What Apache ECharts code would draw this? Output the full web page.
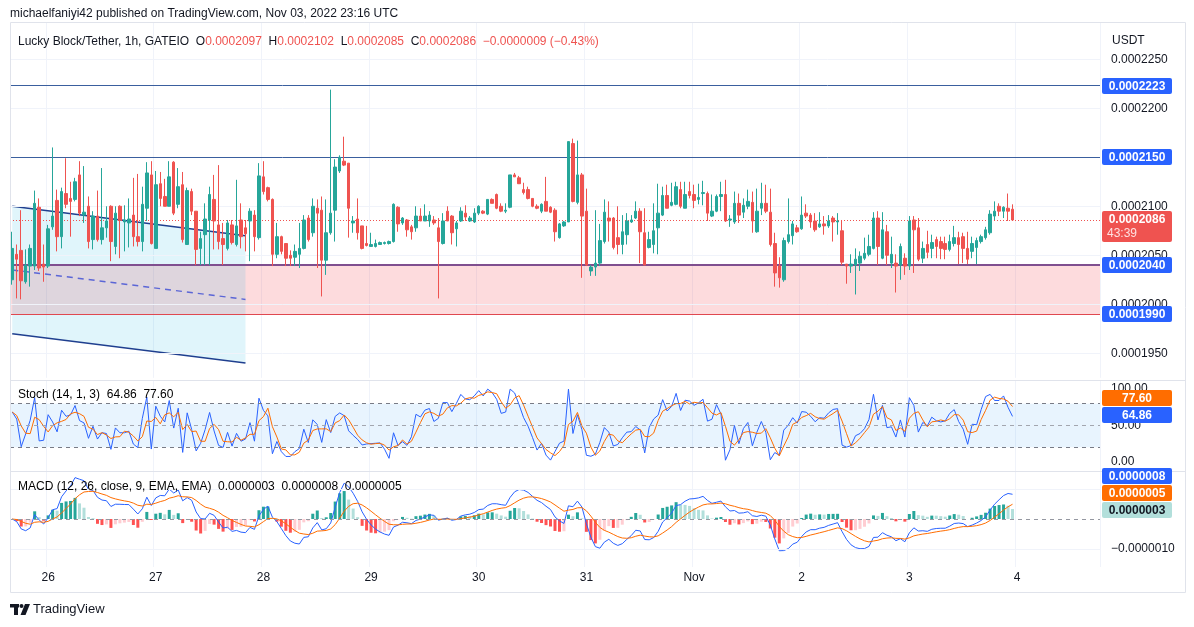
<!DOCTYPE html>
<html>
<head>
<meta charset="utf-8">
<title>Lucky Block/Tether, 1h, GATEIO</title>
<script src="https://cdn.jsdelivr.net/npm/echarts@6/dist/echarts.min.js"></script>
<style>
  html, body { margin: 0; padding: 0; background: #fff; }
  #chart { width: 1194px; height: 627px; }
</style>
</head>
<body>
<div id="chart"></div>
<script>
// prices are in units of 0.0000001 USDT, one candle per hour from Oct 25 16:00 UTC
const opens = [
  2025, 2051, 2055, 2023, 2039, 2039, 2099, 2041, 2039, 2079, 2106, 2069, 2113, 2108, 2107, 2132,
  2091, 2100, 2066, 2090, 2066, 2078, 2100, 2059, 2100, 2084, 2083, 2091, 2069, 2064, 2098, 2132,
  2057, 2123, 2110, 2100, 2145, 2102, 2122, 2061, 2115, 2095, 2057, 2071, 2086, 2107, 2081, 2067,
  2057, 2081, 2061, 2086, 2078, 2085, 2091, 2068, 2130, 2119, 2107, 2051, 2069, 2062, 2050, 2048,
  2051, 2057, 2088, 2073, 2098, 2096, 2045, 2073, 2096, 2136, 2146, 2144, 2083, 2087, 2080, 2062,
  2059, 2059, 2061, 2062, 2062, 2064, 2099, 2083, 2086, 2079, 2078, 2090, 2085, 2085, 2086, 2078,
  2062, 2095, 2090, 2077, 2085, 2093, 2085, 2084, 2093, 2095, 2092, 2107, 2112, 2100, 2095, 2099,
  2132, 2129, 2117, 2117, 2108, 2100, 2095, 2105, 2099, 2096, 2068, 2080, 2084, 2164, 2104, 2132,
  2095, 2034, 2038, 2042, 2064, 2088, 2088, 2068, 2061, 2071, 2084, 2088, 2095, 2073, 2058, 2061,
  2078, 2091, 2111, 2101, 2102, 2117, 2098, 2115, 2112, 2107, 2113, 2113, 2090, 2095, 2110, 2112,
  2086, 2084, 2103, 2094, 2100, 2104, 2074, 2098, 2103, 2094, 2062, 2039, 2025, 2064, 2070, 2078,
  2077, 2093, 2091, 2085, 2079, 2082, 2080, 2088, 2084, 2075, 2041, 2039, 2040, 2042, 2047, 2051,
  2057, 2088, 2047, 2074, 2042, 2042, 2040, 2047, 2039, 2086, 2078, 2047, 2061, 2057, 2066, 2064,
  2062, 2056, 2062, 2068, 2069, 2057, 2054, 2058, 2064, 2068, 2073, 2090, 2100, 2095, 2098, 2097
];
const highs = [
  2074, 2061, 2096, 2056, 2061, 2116, 2108, 2061, 2081, 2160, 2117, 2119, 2149, 2125, 2129, 2146,
  2141, 2110, 2095, 2116, 2139, 2100, 2101, 2100, 2101, 2101, 2108, 2129, 2133, 2120, 2145, 2146,
  2136, 2135, 2128, 2146, 2146, 2139, 2135, 2119, 2118, 2095, 2074, 2103, 2120, 2132, 2142, 2083,
  2086, 2086, 2127, 2103, 2086, 2098, 2096, 2144, 2146, 2120, 2108, 2083, 2070, 2062, 2055, 2061,
  2083, 2091, 2091, 2108, 2107, 2110, 2107, 2219, 2148, 2152, 2171, 2144, 2090, 2108, 2080, 2080,
  2073, 2066, 2064, 2064, 2065, 2103, 2100, 2089, 2087, 2081, 2100, 2098, 2102, 2095, 2090, 2088,
  2093, 2100, 2091, 2085, 2099, 2101, 2090, 2098, 2101, 2096, 2107, 2108, 2113, 2103, 2103, 2132,
  2134, 2131, 2124, 2120, 2108, 2102, 2103, 2130, 2100, 2098, 2083, 2085, 2166, 2169, 2167, 2134,
  2118, 2040, 2096, 2082, 2107, 2105, 2089, 2100, 2091, 2093, 2091, 2105, 2098, 2098, 2074, 2103,
  2123, 2120, 2122, 2124, 2125, 2125, 2125, 2125, 2122, 2123, 2126, 2115, 2112, 2112, 2125, 2127,
  2091, 2115, 2113, 2108, 2117, 2115, 2118, 2124, 2122, 2118, 2073, 2048, 2068, 2108, 2085, 2081,
  2110, 2102, 2093, 2093, 2094, 2090, 2091, 2090, 2093, 2086, 2041, 2051, 2057, 2054, 2068, 2071,
  2094, 2095, 2094, 2081, 2069, 2051, 2062, 2052, 2090, 2090, 2088, 2064, 2075, 2071, 2069, 2069,
  2069, 2071, 2080, 2074, 2073, 2074, 2069, 2068, 2071, 2079, 2096, 2105, 2103, 2100, 2113, 2102
];
const lows = [
  2020, 2006, 2005, 2021, 2018, 2035, 2034, 2023, 2037, 2076, 2054, 2057, 2098, 2069, 2105, 2090,
  2083, 2057, 2056, 2064, 2061, 2068, 2044, 2051, 2047, 2054, 2058, 2059, 2059, 2054, 2085, 2061,
  2057, 2100, 2100, 2100, 2091, 2098, 2063, 2061, 2091, 2040, 2040, 2040, 2040, 2056, 2056, 2040,
  2055, 2061, 2059, 2057, 2054, 2044, 2054, 2066, 2112, 2105, 2039, 2047, 2051, 2039, 2039, 2039,
  2037, 2056, 2064, 2069, 2037, 2008, 2030, 2071, 2064, 2134, 2141, 2068, 2073, 2066, 2056, 2059,
  2059, 2058, 2061, 2061, 2061, 2063, 2074, 2081, 2069, 2066, 2074, 2085, 2085, 2079, 2081, 2006,
  2061, 2085, 2061, 2059, 2084, 2085, 2084, 2083, 2091, 2092, 2091, 2103, 2097, 2094, 2093, 2098,
  2130, 2123, 2112, 2107, 2099, 2097, 2093, 2095, 2093, 2064, 2067, 2079, 2084, 2104, 2102, 2027,
  2039, 2029, 2029, 2039, 2062, 2064, 2056, 2051, 2051, 2061, 2083, 2087, 2042, 2040, 2057, 2052,
  2051, 2090, 2098, 2100, 2101, 2098, 2098, 2108, 2098, 2102, 2101, 2085, 2089, 2094, 2095, 2084,
  2079, 2082, 2083, 2088, 2097, 2073, 2073, 2091, 2093, 2059, 2018, 2017, 2023, 2062, 2061, 2073,
  2076, 2088, 2078, 2074, 2078, 2071, 2078, 2064, 2071, 2040, 2021, 2032, 2010, 2034, 2045, 2049,
  2056, 2040, 2046, 2040, 2037, 2012, 2025, 2030, 2035, 2032, 2044, 2042, 2047, 2047, 2047, 2046,
  2046, 2054, 2059, 2041, 2042, 2041, 2047, 2041, 2062, 2066, 2071, 2086, 2090, 2088, 2085, 2085
];
const closes = [
  2057, 2046, 2024, 2040, 2057, 2103, 2037, 2038, 2077, 2090, 2069, 2115, 2102, 2105, 2125, 2093,
  2094, 2064, 2090, 2066, 2078, 2085, 2064, 2093, 2086, 2086, 2087, 2069, 2064, 2102, 2134, 2062,
  2122, 2108, 2100, 2130, 2093, 2120, 2066, 2116, 2095, 2056, 2067, 2087, 2112, 2085, 2064, 2061,
  2083, 2063, 2080, 2069, 2072, 2095, 2069, 2131, 2115, 2107, 2051, 2069, 2054, 2047, 2047, 2054,
  2057, 2086, 2066, 2100, 2093, 2045, 2073, 2093, 2140, 2150, 2142, 2098, 2085, 2073, 2057, 2060,
  2061, 2062, 2063, 2063, 2064, 2102, 2082, 2088, 2076, 2074, 2090, 2085, 2090, 2091, 2083, 2064,
  2085, 2085, 2073, 2083, 2095, 2089, 2088, 2093, 2100, 2093, 2107, 2103, 2098, 2095, 2096, 2132,
  2130, 2123, 2114, 2108, 2100, 2098, 2102, 2095, 2094, 2074, 2082, 2084, 2166, 2105, 2132, 2090,
  2040, 2038, 2042, 2065, 2094, 2085, 2058, 2061, 2074, 2085, 2086, 2095, 2074, 2040, 2066, 2075,
  2093, 2111, 2098, 2104, 2120, 2100, 2112, 2111, 2106, 2109, 2114, 2093, 2095, 2110, 2112, 2085,
  2087, 2103, 2091, 2101, 2105, 2085, 2095, 2103, 2095, 2061, 2032, 2027, 2065, 2071, 2082, 2074,
  2091, 2090, 2084, 2076, 2082, 2080, 2085, 2084, 2085, 2043, 2039, 2041, 2046, 2049, 2052, 2059,
  2088, 2059, 2076, 2050, 2051, 2039, 2059, 2039, 2085, 2076, 2046, 2057, 2053, 2063, 2059, 2057,
  2056, 2064, 2068, 2061, 2057, 2046, 2062, 2065, 2069, 2076, 2092, 2095, 2095, 2099, 2095, 2086
];

// drawings on the price pane: [candle index, price]
const levelLines = [2223, 2150];
const supportZone = [1990, 2040];
const channelTop = [[0, 2100], [52, 2070]];
const channelBottom = [[0, 1970], [52, 1940]];
const priceTicks = [1950, 2000, 2050, 2100, 2200, 2250];
const priceGrid = [1950, 2000, 2050, 2100, 2150, 2200, 2250];
const countdown = '43:39';

// indicator read-outs shown in the legends
const stochParams = [14, 1, 3];
const stochLast = [64.86, 77.60];       // %K, %D
const macdLast = [3, 8, 5];             // histogram, macd, signal (0.0000001)
const stochLevels = [80, 50, 20];

const startTime = Date.UTC(2022, 9, 25, 16);
const slots = 243;
const months = ['Jan', 'Feb', 'Mar', 'Apr', 'May', 'Jun', 'Jul', 'Aug', 'Sep', 'Oct', 'Nov', 'Dec'];

const FONT = 'Liberation Sans, Arial, sans-serif';
const UP = '#26a69a', DOWN = '#ef5350', BLUE = '#2962ff', ORANGE = '#ff6d00', TEXT = '#131722';

const times = [];
for (let i = 0; i < slots; i++) times.push(startTime + i * 3600000);
const isDayStart = idx => new Date(times[idx]).getUTCHours() === 0;
function dayLabel(idx) {
  const d = new Date(times[idx]);
  return d.getUTCDate() === 1 ? months[d.getUTCMonth()] : String(d.getUTCDate());
}
const fmtPrice = v => (v < 0 ? '\u2212' : '') + (Math.abs(v) / 1e7).toFixed(7);

// indicators
function ema(src, n) {
  const k = 2 / (n + 1);
  let prev = src[0];
  return src.map((v, i) => (prev = i === 0 ? v : v * k + prev * (1 - k)));
}
const stochK = closes.map((c, i) => {
  const from = Math.max(0, i - stochParams[0] + 1);
  const hh = Math.max(...highs.slice(from, i + 1));
  const ll = Math.min(...lows.slice(from, i + 1));
  return hh === ll ? 50 : (100 * (c - ll)) / (hh - ll);
});
const stochD = stochK.map((v, i) => {
  const w = stochK.slice(Math.max(0, i - stochParams[2] + 1), i + 1);
  return w.reduce((a, b) => a + b, 0) / w.length;
});
const ema12 = ema(closes, 12), ema26 = ema(closes, 26);
const macd = closes.map((c, i) => ema12[i] - ema26[i]);
const signal = ema(macd, 9);
const hist = macd.map((m, i) => m - signal[i]);
const histData = hist.map((h, i) => {
  const prev = i > 0 ? hist[i - 1] : h;
  const color = h >= 0 ? (prev < h ? '#26a69a' : '#b2dfdb') : (prev < h ? '#ffcdd2' : '#ff5252');
  return { value: h, itemStyle: { color: color } };
});

const candles = opens.map((o, i) => [o, closes[i], lows[i], highs[i]]);
const last = candles.length - 1;
const change = closes[last] - closes[last - 1];
const changePct = (100 * change) / closes[last - 1];

const chart = echarts.init(document.getElementById('chart'));

function xAxisFor(grid, withLabels) {
  return {
    type: 'category', gridIndex: grid, data: times.map(String), boundaryGap: true,
    axisLine: { show: false }, axisTick: { show: false },
    axisLabel: {
      show: withLabels, interval: idx => isDayStart(idx), formatter: (v, idx) => dayLabel(idx),
      color: TEXT, fontSize: 12, fontFamily: FONT, margin: 5
    },
    splitLine: { show: true, interval: idx => isDayStart(idx), lineStyle: { color: '#f0f3fa', width: 1 } }
  };
}

const grids = [
  { left: 10, right: 94, top: 22.5, height: 355.3 },
  { left: 10, right: 94, top: 380, height: 91 },
  { left: 10, right: 94, top: 471, height: 96 }
];

chart.setOption({
  animation: false,
  backgroundColor: '#ffffff',
  grid: grids,
  xAxis: [xAxisFor(0, false), xAxisFor(1, false), xAxisFor(2, true)],
  yAxis: [
    {
      type: 'value', gridIndex: 0, position: 'right', min: 1925, max: 2287.5, interval: 25,
      axisLine: { show: false }, axisTick: { show: false }, splitLine: { show: false },
      axisLabel: { color: TEXT, fontSize: 12, fontFamily: FONT, margin: 11, showMaxLabel: false,
        formatter: v => (priceTicks.indexOf(v) >= 0 ? fmtPrice(v) : '') }
    },
    {
      type: 'value', gridIndex: 1, position: 'right', min: -12.5, max: 112.5, interval: 12.5,
      axisLine: { show: false }, axisTick: { show: false }, splitLine: { show: false },
      axisLabel: { color: TEXT, fontSize: 12, fontFamily: FONT, margin: 11,
        formatter: v => (v % 50 === 0 ? v.toFixed(2) : '') }
    },
    {
      type: 'value', gridIndex: 2, position: 'right', min: -16, max: 16, interval: 2,
      axisLine: { show: false }, axisTick: { show: false }, splitLine: { show: false },
      axisLabel: { color: TEXT, fontSize: 12, fontFamily: FONT, margin: 11,
        formatter: v => (v === -10 ? fmtPrice(v) : '') }
    }
  ],
  series: [
    {
      name: 'grid', type: 'line', xAxisIndex: 0, yAxisIndex: 0, data: [], z: 1, silent: true,
      markLine: {
        symbol: ['none', 'none'], silent: true, label: { show: false },
        lineStyle: { color: '#f0f3fa', type: 'solid', width: 1 },
        data: priceGrid.map(v => ({ yAxis: v }))
      }
    },
    {
      name: 'zone', type: 'line', xAxisIndex: 0, yAxisIndex: 0, data: [], z: 2, silent: true,
      markArea: {
        silent: true, itemStyle: { color: 'rgba(242, 54, 69, 0.18)' },
        data: [[{ yAxis: supportZone[0] }, { yAxis: supportZone[1] }]]
      }
    },
    {
      name: 'channel', type: 'custom', xAxisIndex: 0, yAxisIndex: 0, z: 3, silent: true,
      data: [[channelTop[0][0], channelTop[0][1]]],
      renderItem: function (params, api) {
        const t0 = api.coord(channelTop[0]), t1 = api.coord(channelTop[1]);
        const b0 = api.coord(channelBottom[0]), b1 = api.coord(channelBottom[1]);
        const m0 = api.coord([channelTop[0][0], (channelTop[0][1] + channelBottom[0][1]) / 2]);
        const m1 = api.coord([channelTop[1][0], (channelTop[1][1] + channelBottom[1][1]) / 2]);
        return {
          type: 'group',
          children: [
            { type: 'polygon', shape: { points: [t0, t1, b1, b0] }, style: { fill: 'rgba(0, 172, 220, 0.12)' } },
            { type: 'line', shape: { x1: t0[0], y1: t0[1], x2: t1[0], y2: t1[1] }, style: { stroke: '#1f3f8f', lineWidth: 1.5 } },
            { type: 'line', shape: { x1: b0[0], y1: b0[1], x2: b1[0], y2: b1[1] }, style: { stroke: '#1f3f8f', lineWidth: 1.5 } },
            { type: 'line', shape: { x1: m0[0], y1: m0[1], x2: m1[0], y2: m1[1] }, style: { stroke: '#5b66d6', lineWidth: 1.5, lineDash: [6, 5] } }
          ]
        };
      }
    },
    {
      name: 'Lucky Block/Tether', type: 'candlestick', xAxisIndex: 0, yAxisIndex: 0, z: 5,
      data: candles, barWidth: 3,
      itemStyle: { color: UP, color0: DOWN, borderColor: UP, borderColor0: DOWN, borderWidth: 1 }
    },
    {
      name: 'levels', type: 'line', xAxisIndex: 0, yAxisIndex: 0, data: [], z: 6, silent: true,
      markLine: {
        symbol: ['none', 'none'], silent: true, label: { show: false },
        data: [
          ...levelLines.map(v => ({ yAxis: v, lineStyle: { color: '#3a5f9e', type: 'solid', width: 1 } })),
          { yAxis: supportZone[1], lineStyle: { color: '#7f4f8f', type: 'solid', width: 2 } },
          { yAxis: supportZone[0], lineStyle: { color: '#e04850', type: 'solid', width: 1.2 } },
          { yAxis: closes[last], lineStyle: { color: DOWN, type: [1, 2], width: 1 } }
        ]
      }
    },
    {
      name: '%K', type: 'line', xAxisIndex: 1, yAxisIndex: 1, data: stochK, symbol: 'none', z: 4,
      lineStyle: { color: BLUE, width: 1 },
      markArea: { silent: true, itemStyle: { color: 'rgba(33, 150, 243, 0.1)' },
        data: [[{ yAxis: stochLevels[2] }, { yAxis: stochLevels[0] }]] },
      markLine: {
        symbol: ['none', 'none'], silent: true, label: { show: false },
        data: stochLevels.map(v => ({ yAxis: v, lineStyle: { color: v === 50 ? '#a3a6af' : '#787b86', type: [4, 4], width: 1 } }))
      }
    },
    {
      name: '%D', type: 'line', xAxisIndex: 1, yAxisIndex: 1, data: stochD, symbol: 'none', z: 4,
      lineStyle: { color: ORANGE, width: 1 }
    },
    {
      name: 'Histogram', type: 'bar', xAxisIndex: 2, yAxisIndex: 2, data: histData, barWidth: 3, z: 3,
      markLine: {
        symbol: ['none', 'none'], silent: true, label: { show: false },
        data: [
          { yAxis: 0, lineStyle: { color: '#9598a1', type: [4, 4], width: 1 } },
          { yAxis: -10, lineStyle: { color: '#f0f3fa', type: 'solid', width: 1 } },
          { yAxis: 10, lineStyle: { color: '#f0f3fa', type: 'solid', width: 1 } }
        ]
      }
    },
    {
      name: 'MACD', type: 'line', xAxisIndex: 2, yAxisIndex: 2, data: macd, symbol: 'none', z: 4,
      lineStyle: { color: BLUE, width: 1 }
    },
    {
      name: 'Signal', type: 'line', xAxisIndex: 2, yAxisIndex: 2, data: signal, symbol: 'none', z: 4,
      lineStyle: { color: ORANGE, width: 1 }
    }
  ]
});

// right-hand badges and the texts round the panes
const BX = 1102, BW = 70, BH = 16, ZB = 100;
function badge(y, text, bg, fg) {
  return {
    type: 'group', x: BX, y: Math.round(y - BH / 2), z: ZB,
    children: [
      { type: 'rect', z: ZB, shape: { x: 0, y: 0, width: BW, height: BH, r: 2 }, style: { fill: bg } },
      { type: 'text', z: ZB + 1, style: { x: BW / 2, y: BH / 2 + 0.5, text: text, fill: fg, font: 'bold 12px ' + FONT,
        textAlign: 'center', textVerticalAlign: 'middle' } }
    ]
  };
}
function stacked(items, axis) {
  // lowest badge keeps its place, the ones above are pushed up so they do not overlap
  const withY = items.map(it => Object.assign({ y: chart.convertToPixel({ yAxisIndex: axis }, it.value) }, it));
  withY.sort((a, b) => b.y - a.y);
  let prevY = Infinity;
  return withY.map(it => {
    const y = Math.min(it.y, prevY - (BH + 1));
    prevY = y;
    return badge(y, it.text, it.bg, it.fg);
  });
}
const py = v => chart.convertToPixel({ yAxisIndex: 0 }, v);
const lastY = py(closes[last]);

const graphics = [
  { type: 'rect', z: 40, shape: { x: 10.5, y: 22.5, width: 1175, height: 570 }, style: { fill: 'none', stroke: '#e0e3eb', lineWidth: 1 } },
  { type: 'line', z: 40, shape: { x1: 10, y1: 380.5, x2: 1185, y2: 380.5 }, style: { stroke: '#e0e3eb', lineWidth: 1 } },
  { type: 'line', z: 40, shape: { x1: 10, y1: 471.5, x2: 1185, y2: 471.5 }, style: { stroke: '#e0e3eb', lineWidth: 1 } },
  { type: 'text', x: 10, y: 14, z: ZB, style: { text: 'michaelfaniyi42 published on TradingView.com, Nov 03, 2022 23:16 UTC',
    fill: TEXT, font: '12px ' + FONT, textVerticalAlign: 'middle' } },
  { type: 'text', x: 18, y: 42, z: ZB, style: {
    text: '{n|Lucky Block/Tether, 1h, GATEIO}  {n|O}{r|' + fmtPrice(opens[last]) + '}  {n|H}{r|' + fmtPrice(highs[last]) +
      '}  {n|L}{r|' + fmtPrice(lows[last]) + '}  {n|C}{r|' + fmtPrice(closes[last]) + '}  {r|' + fmtPrice(change) +
      ' (' + (changePct < 0 ? '\u2212' : '+') + Math.abs(changePct).toFixed(2) + '%)}',
    font: '12px ' + FONT, textVerticalAlign: 'middle',
    rich: { n: { fill: TEXT, color: TEXT, fontSize: 12, fontFamily: FONT }, r: { fill: DOWN, color: DOWN, fontSize: 12, fontFamily: FONT } }
  } },
  { type: 'text', x: 1112, y: 41, z: ZB, style: { text: 'USDT', fill: TEXT, font: '12px ' + FONT, textVerticalAlign: 'middle' } },
  { type: 'text', x: 18, y: 395, z: ZB, style: {
    text: '{n|Stoch (' + stochParams.join(', ') + ')}  {b|' + stochLast[0].toFixed(2) + '}  {o|' + stochLast[1].toFixed(2) + '}',
    font: '12px ' + FONT, textVerticalAlign: 'middle',
    rich: { n: { color: TEXT, fontSize: 12, fontFamily: FONT }, b: { color: BLUE, fontSize: 12, fontFamily: FONT }, o: { color: ORANGE, fontSize: 12, fontFamily: FONT } }
  } },
  { type: 'text', x: 18, y: 487, z: ZB, style: {
    text: '{n|MACD (12, 26, close, 9, EMA, EMA)}  {h|' + fmtPrice(macdLast[0]) + '}  {b|' + fmtPrice(macdLast[1]) + '}  {o|' + fmtPrice(macdLast[2]) + '}',
    font: '12px ' + FONT, textVerticalAlign: 'middle',
    rich: { n: { color: TEXT, fontSize: 12, fontFamily: FONT }, h: { color: '#a8d8d2', fontSize: 12, fontFamily: FONT },
      b: { color: BLUE, fontSize: 12, fontFamily: FONT }, o: { color: ORANGE, fontSize: 12, fontFamily: FONT } }
  } },
  // price badges
  ...levelLines.map(v => badge(py(v), fmtPrice(v), BLUE, '#ffffff')),
  badge(py(supportZone[1]), fmtPrice(supportZone[1]), BLUE, '#ffffff'),
  badge(py(supportZone[0]), fmtPrice(supportZone[0]), BLUE, '#ffffff'),
  {
    type: 'group', x: BX, y: Math.round(lastY - 9), z: ZB,
    children: [
      { type: 'rect', z: ZB, shape: { x: 0, y: 0, width: BW, height: 31, r: 2 }, style: { fill: DOWN } },
      { type: 'text', z: ZB + 1, style: { x: BW / 2, y: 8.5, text: fmtPrice(closes[last]), fill: '#ffffff', font: 'bold 12px ' + FONT, textAlign: 'center', textVerticalAlign: 'middle' } },
      { type: 'text', z: ZB + 1, style: { x: 5, y: 23, text: countdown, fill: '#ffe0e0', font: '12px ' + FONT, textVerticalAlign: 'middle' } }
    ]
  },
  ...stacked([
    { value: stochLast[0], text: stochLast[0].toFixed(2), bg: BLUE, fg: '#ffffff' },
    { value: stochLast[1], text: stochLast[1].toFixed(2), bg: ORANGE, fg: '#ffffff' }
  ], 1),
  ...stacked([
    { value: macdLast[0], text: fmtPrice(macdLast[0]), bg: '#b2dfdb', fg: TEXT },
    { value: macdLast[1], text: fmtPrice(macdLast[1]), bg: BLUE, fg: '#ffffff' },
    { value: macdLast[2], text: fmtPrice(macdLast[2]), bg: ORANGE, fg: '#ffffff' }
  ], 2),
  // TradingView logo
  { type: 'rect', shape: { x: 10, y: 604, width: 9, height: 3.5 }, style: { fill: TEXT } },
  { type: 'rect', shape: { x: 14, y: 604, width: 4, height: 11 }, style: { fill: TEXT } },
  { type: 'circle', shape: { cx: 21.5, cy: 606, r: 2 }, style: { fill: TEXT } },
  { type: 'polygon', shape: { points: [[25, 604], [30, 604], [25.5, 615], [20.5, 615]] }, style: { fill: TEXT } },
  { type: 'text', x: 33, y: 609, style: { text: 'TradingView', fill: TEXT, font: '13px ' + FONT, textVerticalAlign: 'middle' } }
];

chart.setOption({ graphic: graphics });
</script>
</body>
</html>
